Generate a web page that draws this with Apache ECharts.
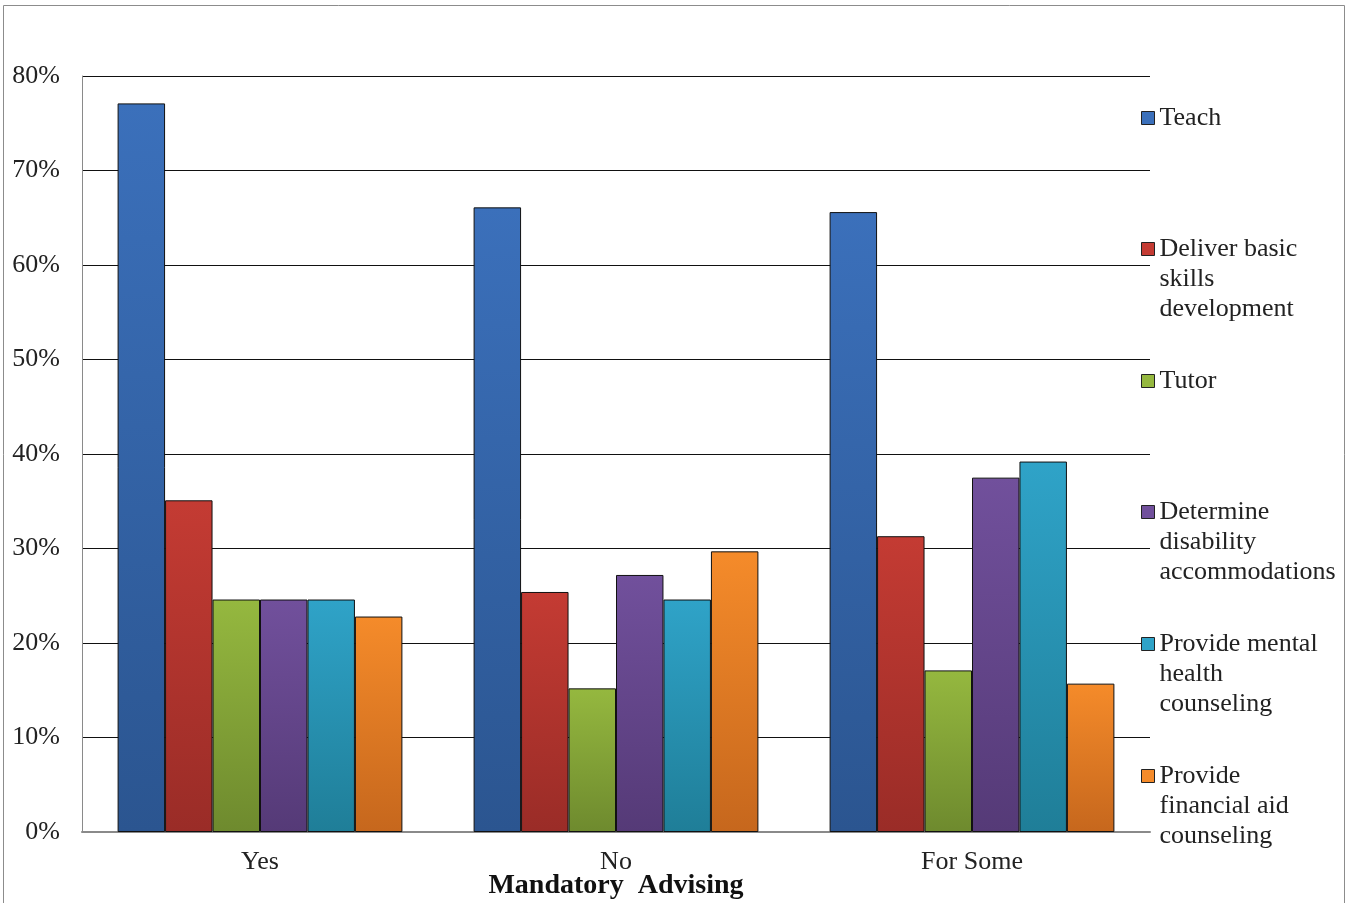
<!DOCTYPE html>
<html>
<head>
<meta charset="utf-8">
<style>
  html, body { margin: 0; padding: 0; background: #fff; }
  #chart { width: 1352px; height: 903px; }
</style>
<script src="https://cdn.jsdelivr.net/npm/echarts@6/dist/echarts.min.js"></script>
</head>
<body>
<div id="chart"></div>
<script>
// Share of responses by mandatory-advising status
const categories = ['Yes', 'No', 'For Some'];
const seriesNames = [
  'Teach',
  'Deliver basic\nskills\ndevelopment',
  'Tutor',
  'Determine\ndisability\naccommodations',
  'Provide mental\nhealth\ncounseling',
  'Provide\nfinancial aid\ncounseling'
];
const teach = [77.1, 66.1, 65.6];
const basicSkills = [35.1, 25.4, 31.3];
const tutor = [24.6, 15.2, 17.1];
const disability = [24.6, 27.2, 37.5];
const mentalHealth = [24.6, 24.6, 39.2];
const financialAid = [22.8, 29.7, 15.7];
const yTicks = [0, 10, 20, 30, 40, 50, 60, 70, 80];

const values = [teach, basicSkills, tutor, disability, mentalHealth, financialAid];
// top and bottom colours of each bar gradient
const shades = [
  ['#3b70bb', '#2b5590'],
  ['#c43b33', '#9a2c27'],
  ['#95b83f', '#6e8a2e'],
  ['#71509c', '#553a77'],
  ['#2fa3c8', '#1f7e98'],
  ['#f58b2a', '#c6671d']
];
// vertical centre of each legend entry's first line
const legendY = [118, 249, 381, 512, 644, 776];

const FONT = '"Liberation Serif", "Times New Roman", serif';
const LINE = 30;
const BOX = 13;

const series = seriesNames.map((name, i) => ({
  name: name,
  type: 'bar',
  data: values[i],
  barGap: '0%',
  barCategoryGap: '20%',
  itemStyle: {
    color: new echarts.graphic.LinearGradient(0, 0, 0, 1, [
      { offset: 0, color: shades[i][0] },
      { offset: 1, color: shades[i][1] }
    ]),
    borderColor: '#111',
    borderWidth: 1
  }
}));

// One legend per entry; the square sits beside the first line of a wrapped name.
const legends = seriesNames.map((name, i) => {
  const lines = name.split('\n').length;
  const h = BOX + (lines - 1) * LINE;
  return {
    orient: 'vertical',
    left: 1141,
    top: legendY[i] - LINE / 2,
    padding: 0,
    itemWidth: BOX,
    itemHeight: h,
    itemGap: 0,
    selectedMode: false,
    data: [{
      name: name,
      icon: 'path://M0 0h13v13h-13z M0 ' + h,
      itemStyle: { color: shades[i][0], borderColor: '#222', borderWidth: 1 }
    }],
    textStyle: {
      fontFamily: FONT,
      fontSize: 26,
      lineHeight: LINE,
      color: '#222'
    }
  };
});

const chart = echarts.init(document.getElementById('chart'));
chart.setOption({
  animation: false,
  backgroundColor: '#fff',
  grid: { left: 82, right: 202, top: 76, bottom: 71, outerBoundsMode: 'none', containLabel: false },
  legend: legends,
  xAxis: {
    type: 'category',
    data: categories,
    name: 'Mandatory  Advising',
    nameLocation: 'middle',
    nameGap: 40,
    nameMoveOverlap: false,
    nameTextStyle: { fontFamily: FONT, fontSize: 28, fontWeight: 'bold', color: '#111', verticalAlign: 'top' },
    axisLine: { lineStyle: { color: '#8a8a8a', width: 2 } },
    axisTick: { show: false },
    axisLabel: { fontFamily: FONT, fontSize: 26, color: '#222', margin: 17 }
  },
  yAxis: {
    type: 'value',
    min: yTicks[0],
    max: yTicks[yTicks.length - 1],
    interval: 10,
    axisLine: { show: true, lineStyle: { color: '#8a8a8a', width: 1 } },
    axisTick: { show: false },
    splitLine: { lineStyle: { color: '#111', width: 1 } },
    axisLabel: { fontFamily: FONT, fontSize: 26, color: '#222', margin: 22, formatter: '{value}%' }
  },
  graphic: [{
    type: 'rect',
    shape: { x: 3.5, y: 5.5, width: 1341, height: 920 },
    style: { fill: 'none', stroke: '#8c8c8c', lineWidth: 1 },
    silent: true,
    z: -1
  }],
  series: series
});
</script>
</body>
</html>
